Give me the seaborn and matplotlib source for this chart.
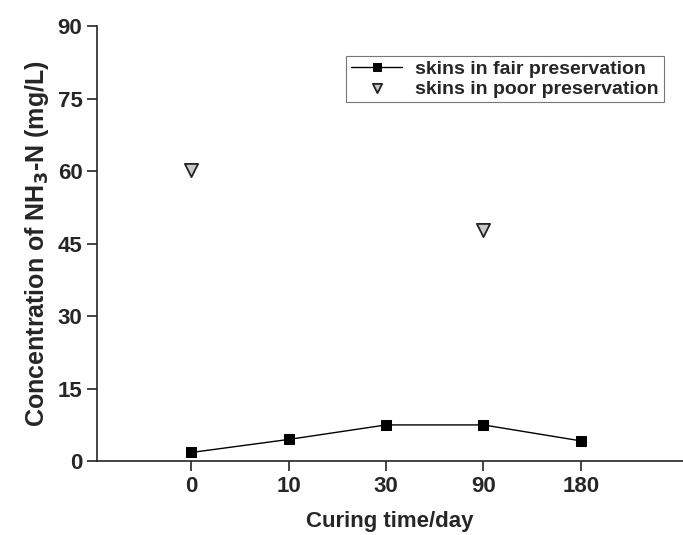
import numpy as np
import pandas as pd
import matplotlib
matplotlib.use("Agg")
import matplotlib.pyplot as plt
import seaborn as sns

# data
days = ["0", "10", "30", "90", "180"]
fair = [1.8, 4.5, 7.5, 7.5, 4.2]
poor_days = ["0", "90"]
poor = [60.3, 47.9]

sns.set_style("ticks")
plt.rcParams['font.family'] = ['Liberation Sans', 'DejaVu Sans']
plt.rcParams['font.weight'] = 'bold'

pos = {d: i for i, d in enumerate(days)}
df_fair = pd.DataFrame({"x": [pos[d] for d in days], "y": fair})
df_poor = pd.DataFrame({"x": [pos[d] for d in poor_days], "y": poor})

fig = plt.figure(figsize=(6.83, 5.35), dpi=100)
ax = fig.add_axes([0.142, 0.138, 0.858, 0.813])

sns.lineplot(data=df_fair, x="x", y="y", ax=ax, color="black", lw=1.0,
             marker="s", markersize=7.5, markeredgecolor="black",
             label="skins in fair preservation")
sns.scatterplot(data=df_poor, x="x", y="y", ax=ax, marker="v", s=90,
                color="#c8c8c8", edgecolor="#222222", linewidth=1.3,
                label="skins in poor preservation")

ax.set_xlim(-0.97, 5.05)
ax.set_ylim(0, 90)
ax.set_xticks(range(len(days)))
ax.set_xticklabels(days)
ax.set_yticks(np.arange(0, 91, 15))
ax.tick_params(axis="both", labelsize=16, width=1.2, length=7, direction="out")
for lab in ax.get_xticklabels() + ax.get_yticklabels():
    lab.set_fontweight("bold")

ax.set_xlabel("Curing time/day", fontsize=16, fontweight="bold", labelpad=10)
ax.set_ylabel("Concentration of NH$_3$-N (mg/L)", fontsize=18, fontweight="bold", labelpad=5)

sns.despine(ax=ax)
ax.spines["left"].set_linewidth(1.2)
ax.spines["bottom"].set_linewidth(1.2)

leg = ax.legend(loc="upper right", bbox_to_anchor=(0.984, 0.955), fontsize=14,
                frameon=True, fancybox=False, edgecolor="#555555",
                handlelength=2.6, borderpad=0.25, labelspacing=0.1,
                markerscale=0.7, handletextpad=0.7)
leg.get_frame().set_linewidth(0.8)

plt.savefig("out.png", dpi=100)
